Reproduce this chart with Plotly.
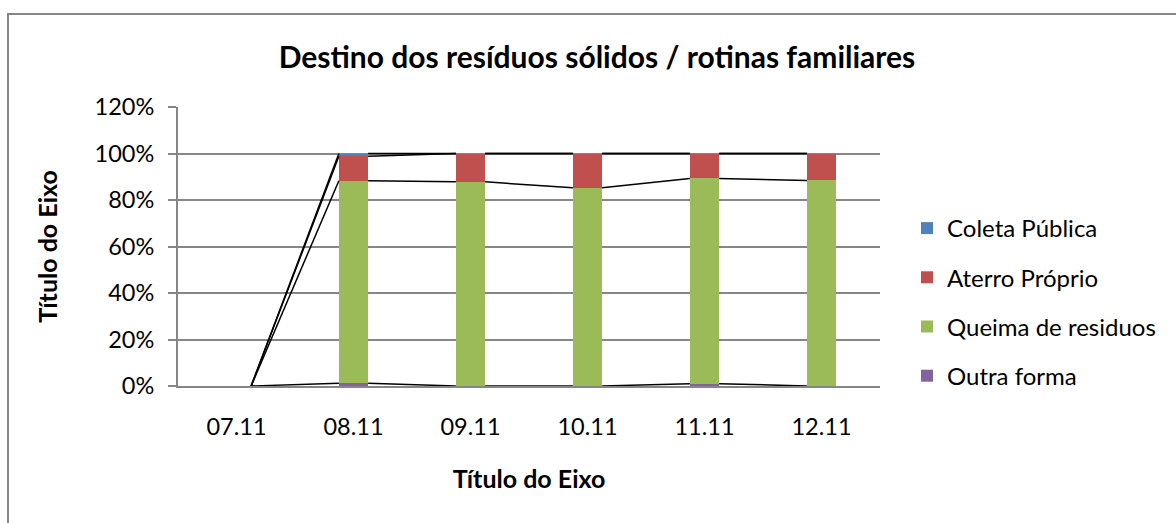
import numpy as np
import plotly.graph_objects as go

# ---- data ----
dates = ["07.11", "08.11", "09.11", "10.11", "11.11", "12.11"]
outra_forma = [0, 1.2, 0, 0, 1.0, 0]
queima = [0, 87.1, 87.8, 85.3, 88.3, 88.4]
aterro = [0, 10.5, 12.2, 14.7, 10.7, 11.6]
coleta = [0, 1.2, 0, 0, 0, 0]
y_ticks = [0, 20, 40, 60, 80, 100, 120]
y_tick_labels = ["0%", "20%", "40%", "60%", "80%", "100%", "120%"]

series = [
    ("Outra forma", outra_forma, "#8064A2"),
    ("Queima de residuos", queima, "#9BBB59"),
    ("Aterro Próprio", aterro, "#C0504D"),
    ("Coleta Pública", coleta, "#4F81BD"),
]

W, H = 1176, 523
L, R, T, B = 178, 296, 107, 137
PW, PH = W - L - R, H - T - B
FONT = "Lato"
GRAY = "#868686"
BAR_W = 0.25

x = np.arange(len(dates))
fig = go.Figure()
n = len(series)
for i, (name, vals, col) in enumerate(series):
    fig.add_trace(go.Bar(
        x=x, y=vals, name=name, marker=dict(color=col, line=dict(width=0)),
        width=BAR_W, legendgroup=name, legendrank=n - i,
    ))

# series lines (connect stacked segment tops between adjacent columns)
cum = np.cumsum(np.array([s[1] for s in series], dtype=float), axis=0)
for level in cum:
    xs, ys = [], []
    for i in range(len(dates) - 1):
        xs += [x[i] + BAR_W / 2, x[i + 1] - BAR_W / 2, None]
        ys += [level[i], level[i + 1], None]
    fig.add_trace(go.Scatter(x=xs, y=ys, mode="lines", showlegend=False,
                             line=dict(color="black", width=1.5), hoverinfo="skip"))

def px_x(p):
    return (p - L) / PW

def px_y(p):
    return (H - B - p) / PH

fig.add_shape(type="rect", xref="paper", yref="paper",
              x0=px_x(8), x1=px_x(1200), y0=px_y(14), y1=px_y(560),
              line=dict(color=GRAY, width=2), fillcolor="rgba(0,0,0,0)", layer="below")

fig.update_layout(
    width=W, height=H,
    margin=dict(l=L, r=R, t=T, b=B, pad=0),
    paper_bgcolor="white", plot_bgcolor="white",
    barmode="stack",
    font=dict(family=FONT, size=23, color="black"),
    title=dict(text="<b>Destino dos resíduos sólidos / rotinas familiares</b>",
               x=597 / W, xanchor="center", y=1 - 57 / H, yanchor="middle",
               font=dict(family=FONT, size=30, color="black")),
    xaxis=dict(
        range=[-0.5, len(dates) - 0.5], tickmode="array", tickvals=x, ticktext=dates,
        showline=True, linecolor=GRAY, linewidth=2, ticks="", showgrid=False, zeroline=False,
        tickfont=dict(family=FONT, size=23.5), ticklabelstandoff=19,
        title=dict(text="<b>Título do Eixo</b>", font=dict(family=FONT, size=25), standoff=31),
    ),
    yaxis=dict(
        range=[0, 120], tickmode="array", tickvals=y_ticks, ticktext=y_tick_labels,
        showline=True, linecolor=GRAY, linewidth=2, ticks="outside", ticklen=8,
        tickcolor=GRAY, tickwidth=2, showgrid=True, gridcolor=GRAY, gridwidth=1.5,
        zeroline=False, tickfont=dict(family=FONT, size=23.5), ticklabelstandoff=9,
        title=dict(text="<b>Título do Eixo</b>", font=dict(family=FONT, size=25), standoff=30),
    ),
    legend=dict(
        x=px_x(907), xanchor="left", y=px_y(302), yanchor="middle",
        traceorder="grouped", tracegroupgap=15,
        font=dict(family=FONT, size=24), bgcolor="rgba(0,0,0,0)",
    ),
    showlegend=True,
)

fig.write_html("out.html", config={"displayModeBar": False},
               post_script="document.body.style.margin='0px';")
